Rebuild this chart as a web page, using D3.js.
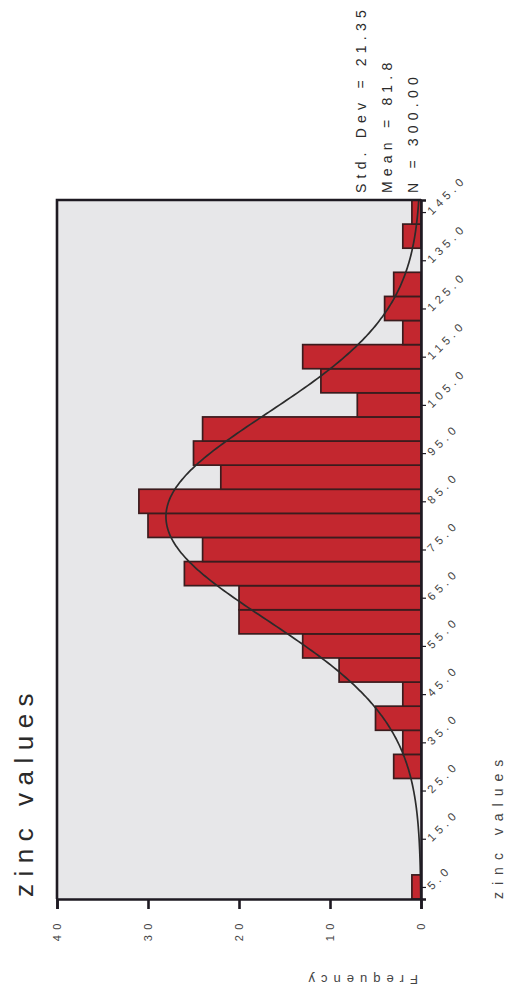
<!DOCTYPE html>
<html>
<head>
<meta charset="utf-8">
<script src="https://cdn.jsdelivr.net/npm/d3@7"></script>
<style>
  html, body { margin: 0; padding: 0; background: #ffffff; }
  svg { display: block; }
  text { font-family: "Liberation Sans", Arial, sans-serif; fill: #2a2a2a; }
</style>
</head>
<body>
<svg id="chart" width="507" height="996"></svg>
<script>
// Histogram of zinc values, bins 5 units wide, labelled by bin midpoint
const binMidpoints = [5, 10, 15, 20, 25, 30, 35, 40, 45, 50, 55, 60, 65, 70, 75,
                      80, 85, 90, 95, 100, 105, 110, 115, 120, 125, 130, 135, 140, 145];
const binCounts    = [1, 0, 0, 0, 0, 3, 2, 5, 2, 9, 13, 20, 20, 26, 24,
                      30, 31, 22, 25, 24, 7, 11, 13, 2, 4, 3, 0, 2, 1];
const valueTicks   = [5, 15, 25, 35, 45, 55, 65, 75, 85, 95, 105, 115, 125, 135, 145];
const freqTicks    = [0, 10, 20, 30, 40];

// Summary statistics printed beside the chart (also define the normal curve)
const statStdDev = 21.35;
const statMean = 81.8;
const statN = 300;
const binWidth = 5;

const svg = d3.select("#chart");

// Chart is laid on its side: values run bottom→top, frequency runs right→left
const plot = { left: 57, right: 421, top: 200, bottom: 899 };

const x = d3.scaleLinear().domain([0, 40]).range([plot.right, plot.left]);
const y = d3.scaleLinear()
  .domain([binMidpoints[0] - binWidth / 2, binMidpoints[binMidpoints.length - 1] + binWidth / 2])
  .range([plot.bottom, plot.top]);

// plot background
svg.append("rect")
  .attr("x", plot.left).attr("y", plot.top)
  .attr("width", plot.right - plot.left).attr("height", plot.bottom - plot.top)
  .attr("fill", "#e7e7e9");

// bars
const bins = binMidpoints.map((m, i) => ({ mid: m, count: binCounts[i] }));
svg.append("g")
  .selectAll("rect")
  .data(bins.filter(d => d.count > 0))
  .join("rect")
  .attr("x", d => x(d.count))
  .attr("y", d => y(d.mid + binWidth / 2))
  .attr("width", d => x(0) - x(d.count))
  .attr("height", d => y(d.mid - binWidth / 2) - y(d.mid + binWidth / 2))
  .attr("fill", "#c3272f")
  .attr("stroke", "#3b1c1e")
  .attr("stroke-width", 1.7);

// fitted normal curve from the printed mean / std. dev / N
const [v0, v1] = y.domain();
const curvePts = d3.range(v0, v1 + 0.01, 0.5).map(v => {
  const z = (v - statMean) / statStdDev;
  const f = statN * binWidth * Math.exp(-0.5 * z * z) / (statStdDev * Math.sqrt(2 * Math.PI));
  return [v, f];
});
svg.append("path")
  .datum(curvePts)
  .attr("fill", "none")
  .attr("stroke", "#2b2b2b")
  .attr("stroke-width", 1.7)
  .attr("d", d3.line().x(d => x(d[1])).y(d => y(d[0])).curve(d3.curveBasis));

// frame: top and left edges
svg.append("path")
  .attr("d", `M${plot.right},${plot.top}H${plot.left}V${plot.bottom}`)
  .attr("fill", "none").attr("stroke", "#1e1a22").attr("stroke-width", 2.6);

// frequency axis (along the bottom edge)
const freqAxis = svg.append("g")
  .attr("transform", `translate(0,${plot.bottom})`)
  .call(d3.axisBottom(x).tickValues(freqTicks).tickSize(10).tickFormat(""));
freqAxis.select(".domain").attr("stroke", "#1e1a22").attr("stroke-width", 2.6);
freqAxis.selectAll(".tick line").attr("stroke", "#1e1a22").attr("stroke-width", 2.6);
freqAxis.selectAll(".tick").append("text")
  .attr("transform", "translate(0,19) rotate(-90)")
  .attr("text-anchor", "end")
  .attr("dy", "0.35em")
  .attr("font-size", 11)
  .attr("letter-spacing", 5.5)
  .style("fill", "#444")
  .text(d => d);

// value axis (along the right edge)
const valueAxis = svg.append("g")
  .attr("transform", `translate(${plot.right},0)`)
  .call(d3.axisRight(y).tickValues(valueTicks).tickSize(5).tickFormat(""));
valueAxis.select(".domain").attr("stroke", "#1e1a22").attr("stroke-width", 2.6);
valueAxis.selectAll(".tick line").attr("stroke", "#1e1a22").attr("stroke-width", 1.2);
valueAxis.selectAll(".tick").append("text")
  .attr("transform", "translate(11,3) rotate(-45)")
  .attr("text-anchor", "start")
  .attr("font-size", 11.5)
  .attr("letter-spacing", 4.2)
  .style("fill", "#444")
  .text(d => d3.format(".1f")(d));

// chart title
svg.append("text")
  .attr("transform", `translate(33,${plot.bottom - 2}) rotate(-90)`)
  .attr("font-size", 26)
  .attr("letter-spacing", 7.5)
  .text("zinc values");

// value axis title
svg.append("text")
  .attr("transform", `translate(503,${plot.bottom}) rotate(-90)`)
  .attr("font-size", 14)
  .attr("letter-spacing", 7)
  .style("fill", "#444")
  .text("zinc values");

// frequency axis title (reads upside down in this orientation)
svg.append("text")
  .attr("transform", `translate(418,975) rotate(180)`)
  .attr("font-size", 13)
  .attr("letter-spacing", 6)
  .style("fill", "#444")
  .text("Frequency");

// statistics block
const statLines = [
  `Std. Dev = ${statStdDev.toFixed(2)}`,
  `Mean = ${statMean.toFixed(1)}`,
  `N = ${statN.toFixed(2)}`
];
svg.append("g")
  .selectAll("text")
  .data(statLines)
  .join("text")
  .attr("transform", (d, i) => `translate(${366 + i * 26},193) rotate(-90)`)
  .attr("font-size", 14)
  .attr("letter-spacing", 5.2)
  .text(d => d);
</script>
</body>
</html>
